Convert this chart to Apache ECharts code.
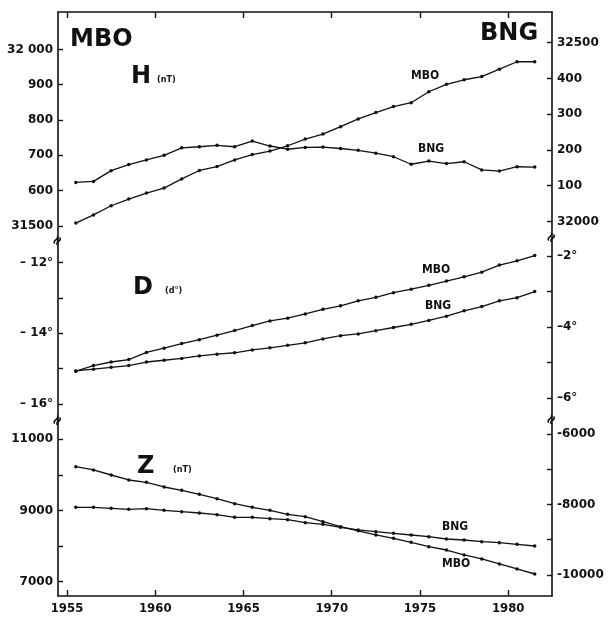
<!DOCTYPE html>
<html>
<head>
<meta charset="utf-8">
<script src="https://cdn.jsdelivr.net/npm/echarts@6/dist/echarts.min.js"></script>
<style>
html, body { margin: 0; background: #fff; }
#chart { width: 611px; height: 620px; }
</style>
</head>
<body>
<div id="chart"></div>
<script>
// annual means, 1955.5 .. 1981.5
const years = [1955.5, 1956.5, 1957.5, 1958.5, 1959.5, 1960.5, 1961.5, 1962.5, 1963.5,
  1964.5, 1965.5, 1966.5, 1967.5, 1968.5, 1969.5, 1970.5, 1971.5, 1972.5, 1973.5,
  1974.5, 1975.5, 1976.5, 1977.5, 1978.5, 1979.5, 1980.5, 1981.5];

// H (nT): MBO on left axis, BNG on right axis
const hMbo = [31508, 31531, 31557, 31576, 31593, 31607, 31633, 31657, 31668, 31687, 31702, 31712,
  31727, 31746, 31760, 31781, 31803, 31821, 31838, 31849, 31880, 31901, 31914, 31923, 31944, 31965, 31965];
const hBng = [32109, 32112, 32142, 32159, 32172, 32185, 32206, 32209, 32213, 32209, 32225, 32211,
  32202, 32207, 32208, 32204, 32199, 32191, 32181, 32160, 32169, 32162, 32167, 32144, 32141, 32153, 32152];

// D (degrees)
const dMbo = [-15.07, -14.91, -14.81, -14.74, -14.54, -14.42, -14.29, -14.18, -14.05, -13.92, -13.78,
  -13.65, -13.57, -13.45, -13.32, -13.22, -13.08, -12.98, -12.85, -12.75, -12.64, -12.52, -12.40,
  -12.27, -12.07, -11.95, -11.80];
const dBng = [-5.23, -5.18, -5.13, -5.08, -4.98, -4.93, -4.88, -4.81, -4.76, -4.72, -4.64, -4.58,
  -4.51, -4.44, -4.33, -4.24, -4.19, -4.10, -4.01, -3.92, -3.81, -3.69, -3.54, -3.42, -3.26, -3.17, -3.00];

// Z (nT)
const zMbo = [10230, 10138, 9997, 9857, 9792, 9660, 9567, 9455, 9331, 9191, 9090, 9006, 8893, 8826,
  8685, 8545, 8430, 8312, 8219, 8107, 7983, 7890, 7750, 7638, 7497, 7357, 7216];
const zBng = [-8079, -8079, -8108, -8136, -8119, -8165, -8204, -8241, -8289, -8363, -8363, -8403,
  -8431, -8516, -8562, -8647, -8723, -8772, -8817, -8865, -8913, -8979, -9007, -9055, -9084, -9129, -9177];

// axis ticks and labels
const yearTicks = [1955, 1960, 1965, 1970, 1975, 1980];
const hLeftTicks = [31500, 31600, 31700, 31800, 31900, 32000];
const hLeftLabels = ['31500', '600', '700', '800', '900', '32 000'];
const hRightTicks = [32000, 32100, 32200, 32300, 32400, 32500];
const hRightLabels = ['32000', '100', '200', '300', '400', '32500'];
const dLeftTicks = [-16, -15, -14, -13, -12];
const dLeftLabelTicks = [-16, -14, -12];
const dLeftLabels = ['– 16°', '– 14°', '– 12°'];
const dRightTicks = [-6, -5, -4, -3, -2];
const dRightLabelTicks = [-6, -4, -2];
const dRightLabels = ['–6°', '–4°', '–2°'];
const zLeftTicks = [7000, 8000, 9000, 10000, 11000];
const zLeftLabelTicks = [7000, 9000, 11000];
const zLeftLabels = ['7000', '9000', '11000'];
const zRightTicks = [-10000, -9000, -8000, -7000, -6000];
const zRightLabelTicks = [-10000, -8000, -6000];
const zRightLabels = ['-10000', '-8000', '-6000'];

const ink = '#111';
const font = 'DejaVu Sans Condensed, Liberation Sans, sans-serif';
const tickFont = 'DejaVu Sans, Liberation Sans, sans-serif';

function pairs(ys) {
  return years.map((x, i) => [x, ys[i]]);
}

function yAxis(grid, pos, min, max, ticks, labelTicks, labels) {
  return {
    type: 'value', gridIndex: grid, position: pos, min: min, max: max,
    splitLine: { show: false },
    axisLine: { show: true, onZero: false, lineStyle: { color: ink, width: 1.6 } },
    axisTick: { show: true, inside: true, length: 5, customValues: ticks, lineStyle: { color: ink, width: 1.4 } },
    axisLabel: {
      customValues: labelTicks, margin: 5, color: ink, fontFamily: tickFont, fontWeight: 'bold', fontSize: 12,
      formatter: v => labels[labelTicks.indexOf(v)]
    }
  };
}

function xAxis(grid, pos, showLabels, showLine) {
  return {
    type: 'value', gridIndex: grid, position: pos, min: 1954.49, max: 1982.48,
    splitLine: { show: false },
    axisLine: { show: showLine, onZero: false, lineStyle: { color: ink, width: 1.6 } },
    axisTick: { show: showLine, inside: true, length: 6, customValues: yearTicks, lineStyle: { color: ink, width: 1.4 } },
    axisLabel: {
      show: showLabels, customValues: yearTicks, margin: 6, color: ink,
      fontFamily: font, fontWeight: 'bold', fontSize: 13, formatter: v => String(v)
    }
  };
}

function line(x, y, data) {
  return {
    type: 'line', xAxisIndex: x, yAxisIndex: y, data: pairs(data),
    symbol: 'circle', symbolSize: 3.5, silent: true,
    lineStyle: { color: ink, width: 1.3 }, itemStyle: { color: ink }
  };
}

function txt(x, y, s, size, face) {
  return {
    type: 'text', x: x, y: y,
    style: { text: s, fill: ink, font: 'bold ' + size + 'px ' + (face || font), textVerticalAlign: 'middle' }
  };
}

function brk(x, y) {
  return {
    type: 'text', x: x, y: y, rotation: Math.PI / 3, originX: 0, originY: 0,
    style: { text: '≈', fill: ink, font: 'bold 15px ' + font, textAlign: 'center', textVerticalAlign: 'middle' }
  };
}

const option = {
  backgroundColor: '#fff',
  animation: false,
  grid: [
    { left: 58, width: 494, top: 12, height: 228, outerBoundsMode: 'none' },
    { left: 58, width: 494, top: 240, height: 180, outerBoundsMode: 'none' },
    { left: 58, width: 494, top: 420, height: 176, outerBoundsMode: 'none' }
  ],
  xAxis: [
    xAxis(0, 'top', false, true),
    xAxis(1, 'bottom', false, false),
    xAxis(2, 'bottom', true, true)
  ],
  yAxis: [
    yAxis(0, 'left', 31460, 32106, hLeftTicks, hLeftTicks, hLeftLabels),
    yAxis(0, 'right', 31948, 32586, hRightTicks, hRightTicks, hRightLabels),
    yAxis(1, 'left', -16.45, -11.36, dLeftTicks, dLeftLabelTicks, dLeftLabels),
    yAxis(1, 'right', -6.61, -1.55, dRightTicks, dRightLabelTicks, dRightLabels),
    yAxis(2, 'left', 6598, 11542, zLeftTicks, zLeftLabelTicks, zLeftLabels),
    yAxis(2, 'right', -10596, -5603, zRightTicks, zRightLabelTicks, zRightLabels)
  ],
  series: [
    line(0, 0, hMbo),
    line(0, 1, hBng),
    line(1, 2, dMbo),
    line(1, 3, dBng),
    line(2, 4, zMbo),
    line(2, 5, zBng)
  ],
  graphic: [
    txt(70, 40, 'MBO', 24, tickFont),
    txt(480, 34, 'BNG', 24, tickFont),
    txt(131, 77, 'H', 24, tickFont),
    txt(157, 80, '(nT)', 9),
    txt(133, 288, 'D', 24, tickFont),
    txt(165, 291, '(d°)', 9),
    txt(137, 467, 'Z', 24, tickFont),
    txt(173, 470, '(nT)', 9),
    txt(411, 76, 'MBO', 12),
    txt(418, 149, 'BNG', 12),
    txt(422, 270, 'MBO', 12),
    txt(425, 306, 'BNG', 12),
    txt(442, 527, 'BNG', 12),
    txt(442, 564, 'MBO', 12),
    brk(58, 241),
    brk(58, 421),
    brk(552, 238),
    brk(552, 420)
  ]
};

const chart = echarts.init(document.getElementById('chart'));
chart.setOption(option);
</script>
</body>
</html>
